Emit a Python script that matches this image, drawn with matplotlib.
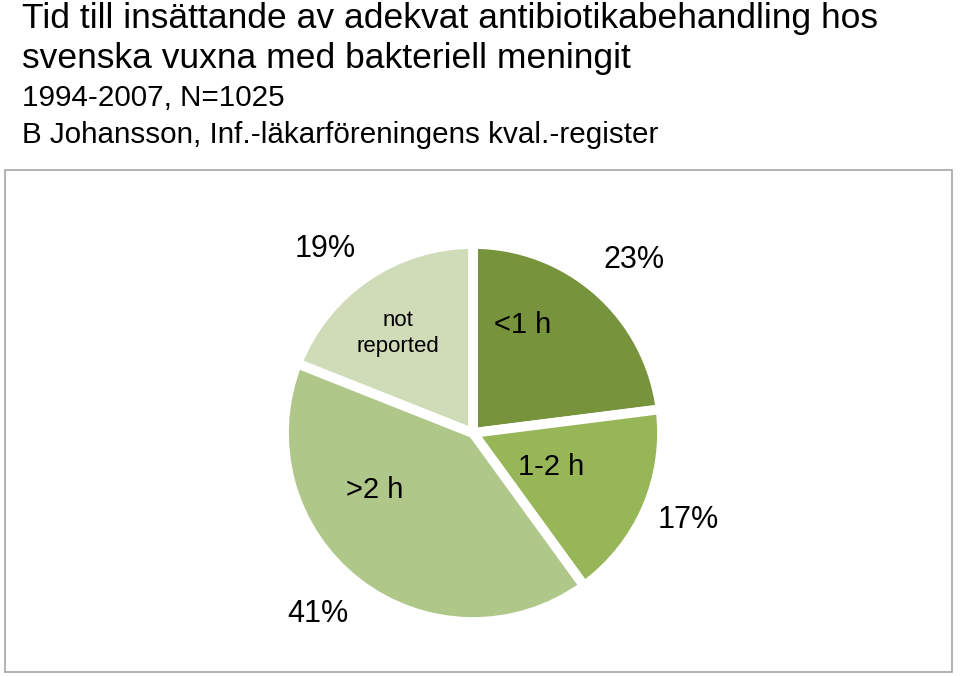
import matplotlib
matplotlib.use("Agg")
import matplotlib.pyplot as plt
from matplotlib.patches import Rectangle
import numpy as np

# data
categories = ["<1 h", "1-2 h", ">2 h", "not\nreported"]
shares = [23, 17, 41, 19]
pct_labels = ["23%", "17%", "41%", "19%"]
colors = ["#77933c", "#97b658", "#b0c78a", "#d0dcb8"]

title_lines = [
    "Tid till insättande av adekvat antibiotikabehandling hos",
    "svenska vuxna med bakteriell meningit",
]
sub_lines = ["1994-2007, N=1025", "B Johansson, Inf.-läkarföreningens kval.-register"]

FONT = "Liberation Sans"

fig = plt.figure(figsize=(9.6, 6.76), dpi=100)
W, H = 960, 676

# frame around the chart area
fig.patches.append(Rectangle((5 / W, 1 - 672 / H), 947 / W, 502 / H,
                             transform=fig.transFigure, fill=False,
                             edgecolor="#a6a6a6", linewidth=1.2))

# header text
fig.text(22 / W, 1 - 28 / H, title_lines[0], fontsize=25.5, family=FONT, va="baseline")
fig.text(22 / W, 1 - 68 / H, title_lines[1], fontsize=25.5, family=FONT, va="baseline")
fig.text(22 / W, 1 - 106 / H, sub_lines[0], fontsize=21.3, family=FONT, va="baseline")
fig.text(22 / W, 1 - 143 / H, sub_lines[1], fontsize=21.3, family=FONT, va="baseline")

# pie axes, centred at (473, 433) px with radius ~189 px
R = 189
lim = 1.3
side = 2 * lim * R
cx, cy = 473, 433
ax = fig.add_axes([(cx - side / 2) / W, (H - cy - side / 2) / H, side / W, side / H])

wedges, _ = ax.pie(shares, colors=colors, startangle=90, counterclock=False,
                   radius=1.0, wedgeprops=dict(edgecolor="white", linewidth=7))
ax.set_xlim(-lim, lim)
ax.set_ylim(-lim, lim)
ax.set_aspect("equal")
ax.axis("off")

# label placement (radial distance, angle offset in degrees)
inner_pos = [(0.63, 17), (0.45, 0), (0.6, -22), (0.66, 3)]
inner_size = [21, 21, 21, 16]
for w, lab, (d, off), fs in zip(wedges, categories, inner_pos, inner_size):
    ang = np.deg2rad((w.theta1 + w.theta2) / 2 + off)
    ax.text(d * np.cos(ang), d * np.sin(ang), lab, ha="center", va="center",
            fontsize=fs, family=FONT, linespacing=1.3)

pct_pos = [(1.25, -1.5), (1.23, 1.4), (1.26, -2.7), (1.25, 4.5)]
for w, lab, (d, off) in zip(wedges, pct_labels, pct_pos):
    ang = np.deg2rad((w.theta1 + w.theta2) / 2 + off)
    ax.text(d * np.cos(ang), d * np.sin(ang), lab, ha="center", va="center",
            fontsize=22, family=FONT)

fig.savefig("out.png", dpi=100)
